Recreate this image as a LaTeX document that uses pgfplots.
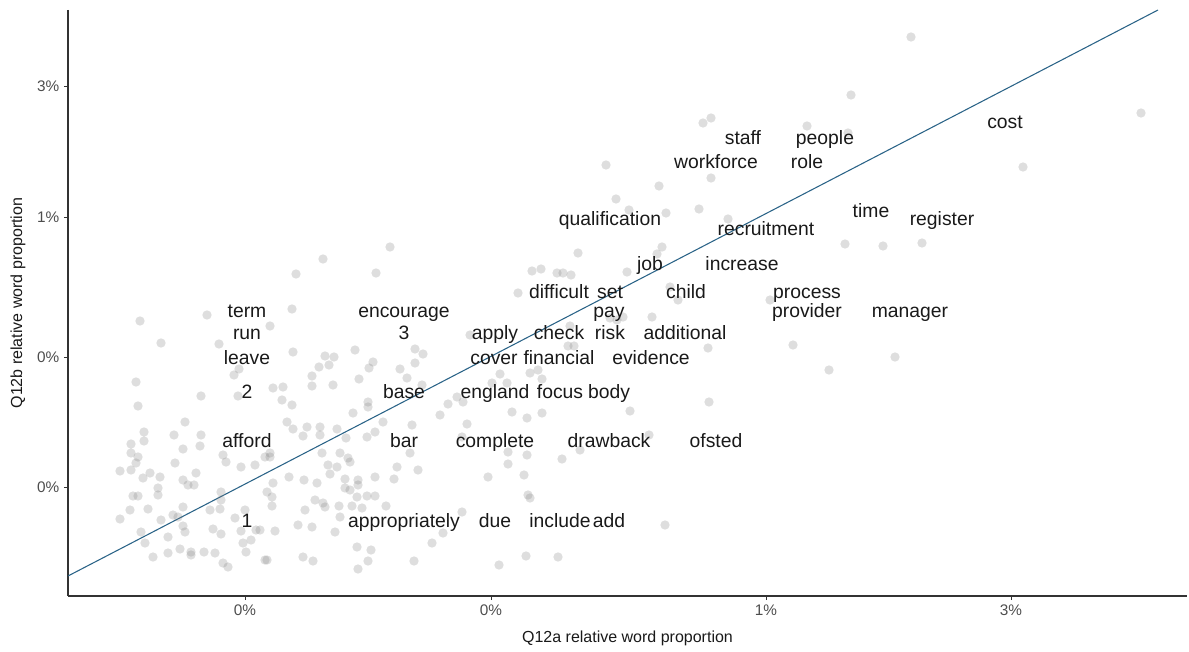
\documentclass[border=0pt]{standalone}
\usepackage{fontspec}
\setmainfont{Liberation Sans}
\usepackage{pgfplots}
\pgfplotsset{compat=1.18}
\definecolor{fitline}{HTML}{2A6387}
\definecolor{ticktext}{HTML}{4D4D4D}

% positions (x to the right, y downward)
\pgfplotstableread{
px py
140 321
207 315
161 343
219 344
239 369
234 375
136 382
201 396
238 396
138 406
185 422
144 432
174 435
201 435
144 441
131 444
131 453
138 457
183 449
200 446
223 455
226 462
120 471
131 470
136 463
175 463
150 473
143 478
160 477
183 480
196 473
188 485
194 485
241 467
255 465
265 457
158 488
158 495
133 496
138 496
221 492
221 500
130 510
148 509
183 507
178 517
210 510
220 509
245 510
120 519
161 520
173 515
183 526
185 532
141 532
168 537
213 529
221 534
235 518
241 531
256 530
145 543
243 543
251 540
153 557
168 553
180 549
191 552
191 555
204 552
215 553
223 563
228 567
246 552
265 560
323 259
296 274
376 273
390 247
292 309
270 326
293 352
325 356
334 357
329 365
319 367
355 350
373 362
369 368
400 369
415 349
423 354
415 363
312 376
312 386
333 385
359 379
407 378
422 385
273 388
283 387
282 400
292 405
353 413
368 402
368 407
383 422
412 425
440 415
448 404
457 397
287 422
307 427
320 427
337 429
293 429
303 436
320 435
346 438
367 437
375 432
270 453
270 457
322 453
340 453
348 458
350 462
410 453
397 467
418 470
328 465
337 467
289 477
304 480
317 483
330 474
345 479
358 480
358 485
345 488
375 477
394 479
267 492
273 483
272 497
272 506
350 490
357 497
367 496
375 496
315 500
323 503
325 507
339 506
352 506
362 508
386 506
305 510
340 517
298 525
312 527
275 531
335 532
260 530
432 543
443 533
357 547
371 550
303 557
313 561
267 560
368 561
414 561
358 569
578 253
662 247
657 254
532 271
541 269
557 273
563 273
571 275
627 272
518 293
610 318
617 320
623 317
652 317
470 335
570 326
568 346
574 346
500 374
530 373
538 370
542 379
492 383
507 383
463 402
512 412
542 413
630 411
527 418
467 424
462 437
508 452
527 455
580 450
562 459
649 435
508 464
488 477
524 475
528 495
530 498
462 512
665 525
526 556
558 557
499 565
703 123
711 118
807 126
606 165
711 178
659 186
616 199
629 210
666 213
699 209
728 219
911 37
851 95
848 133
1141 113
1023 167
845 244
883 246
922 243
895 357
829 370
670 287
678 300
770 300
793 345
708 348
709 402
}\pointdata

\pgfplotstableread{
px py word
743 138 staff
825 138 people
1005 122 cost
716 162 workforce
807 162 role
871 211 time
942 219 register
610 219 qualification
766 229 recruitment
650 264 job
742 264 increase
559 292 difficult
610 292 set
686 292 child
807 292 process
609 311 pay
247 311 term
404 311 encourage
807 311 provider
910 311 manager
247 333 run
404 333 3
495 333 apply
559 333 check
610 333 risk
685 333 additional
247 358 leave
494 358 cover
559 358 financial
651 358 evidence
247 392 2
404 392 base
495 392 england
560 392 focus
609 392 body
247 441 afford
404 441 bar
495 441 complete
609 441 drawback
716 441 ofsted
247 521 1
404 521 appropriately
495 521 due
560 521 include
609 521 add
}\worddata

\begin{document}
\begin{tikzpicture}
\useasboundingbox (-51pt,-42pt) rectangle (840.75pt,447pt);
\begin{axis}[
    scale only axis,
    width=839.25pt, height=439.5pt,
    xmin=68, xmax=1187,
    ymin=10, ymax=596,
    y dir=reverse,
    axis lines*=left,
    axis line style={line width=0.8pt, color=black!80},
    tick align=outside,
    major tick length=3pt,
    every tick/.style={color=black!80, line width=0.6pt},
    xtick={245,491,766,1011},
    xticklabels={0\%,0\%,1\%,3\%},
    ytick={86,217,357,487},
    yticklabels={3\%,1\%,0\%,0\%},
    tick label style={font=\fontsize{11.5}{13}\selectfont, text=ticktext},
    xlabel={Q12a relative word proportion},
    ylabel={Q12b relative word proportion},
    label style={font=\fontsize{12}{14}\selectfont, text=black!90},
    xlabel style={at={(axis description cs:0.5,-0.0717)}, anchor=center},
    ylabel style={at={(axis description cs:-0.0447,0.5)}, anchor=center, rotate=0},
    clip=true,
]
\addplot[only marks, mark=*, mark size=3.5pt,
    mark options={draw opacity=0, fill=black!50, fill opacity=0.26}]
    table[x=px, y=py] {\pointdata};
\addplot[no marks, color=fitline, line width=0.8pt] coordinates {(68,576) (1158,10)};
\addplot[only marks, mark=none, nodes near coords, point meta=explicit symbolic,
    every node near coord/.style={anchor=center, inner sep=0pt, yshift=-2.5pt,
        text height=0.72em, text depth=0.21em,
        font=\fontsize{14.5}{16}\selectfont, text=black!90}]
    table[x=px, y=py, meta=word] {\worddata};
\end{axis}
\end{tikzpicture}
\end{document}
